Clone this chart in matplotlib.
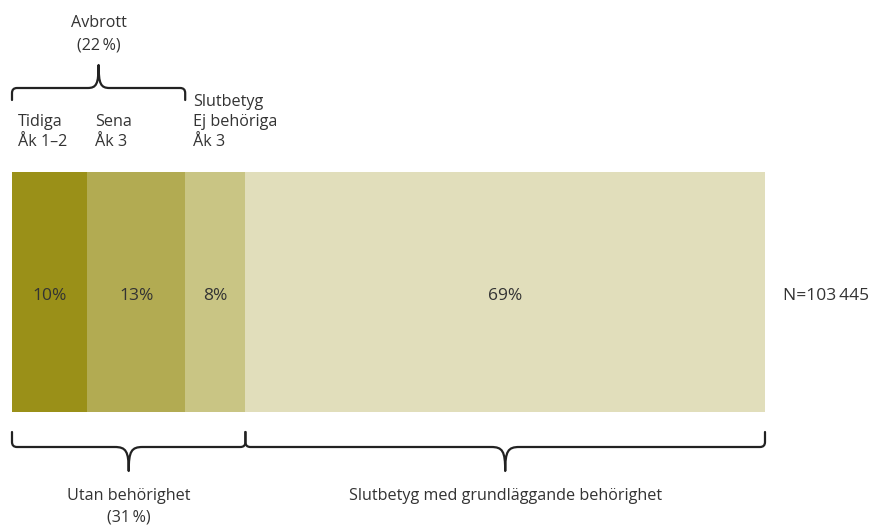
import matplotlib
matplotlib.use("Agg")
import matplotlib.pyplot as plt
from matplotlib.path import Path
from matplotlib.patches import PathPatch
import numpy as np

# ---- data ----
segments = ["Tidiga Åk 1–2", "Sena Åk 3", "Slutbetyg Ej behöriga Åk 3",
            "Slutbetyg med grundläggande behörighet"]
values = [10, 13, 8, 69]
value_labels = ["10%", "13%", "8%", "69%"]
colors = ["#9a9018", "#b2ab52", "#c9c584", "#e1debb"]
n_label = "N=103\u2009445"
top_labels = [["Tidiga", "Åk 1–2"], ["Sena", "Åk 3"], ["Slutbetyg", "Ej behöriga", "Åk 3"]]
group_top = ["Avbrott", "(22\u2009%)"]
group_bottom_1 = ["Utan behörighet", "(31\u2009%)"]
group_bottom_2 = ["Slutbetyg med grundläggande behörighet"]

plt.rcParams['font.family'] = ['Open Sans', 'DejaVu Sans']
W, H = 870, 528
fig = plt.figure(figsize=(W / 100, H / 100), dpi=100)
ax = fig.add_axes([0, 0, 1, 1])

# x: percent, mapped so that 0% -> 12px and 100% -> 765px ; y: pixels (top=0)
x0px, x1px = 12, 765
pxper = (x1px - x0px) / 100.0
ax.set_xlim(-x0px / pxper, (W - x0px) / pxper)
ax.set_ylim(H, 0)
ax.axis("off")

bar_y, bar_h = 292, 240
lefts = np.concatenate([[0], np.cumsum(values)[:-1]])
ax.barh([bar_y] * len(values), values, left=lefts, height=bar_h,
        color=colors, edgecolor="none")

txtc = "#333333"
fs = 11.6
fsb = 12.5
for l, v, lab in zip(lefts, values, value_labels):
    ax.text(l + v / 2, bar_y + 4, lab, ha="center", va="center", fontsize=fsb, color=txtc)
ax.text(100 + 18 / pxper, bar_y + 4, n_label, ha="left", va="center", fontsize=fsb, color=txtc)

# top labels
offs = [6, 8, 8]
for l, lines, o in zip(lefts[:3], top_labels, offs):
    n = len(lines)
    for i, line in enumerate(lines):
        y = 142 - (n - 1 - i) * 20
        ax.text(l + o / pxper, y, line, ha="left", va="center", fontsize=fs, color=txtc)


def brace(xa, xb, y_end, y_line, y_tip, r=5, w=10):
    """xa, xb in percent; ys in px; r, w in px."""
    rx = r / pxper
    wx = w / pxper
    xm = (xa + xb) / 2
    s = np.sign(y_end - y_line)
    verts = [(xa, y_end), (xa, y_line + s * r),
             (xa, y_line), (xa + rx, y_line),
             (xm - wx, y_line),
             (xm - 0.2 * wx, y_line), (xm, y_line - s * 4), (xm, y_tip),
             (xm, y_line - s * 4), (xm + 0.2 * wx, y_line), (xm + wx, y_line),
             (xb - rx, y_line),
             (xb, y_line), (xb, y_line + s * r),
             (xb, y_end)]
    codes = [Path.MOVETO, Path.LINETO,
             Path.CURVE3, Path.CURVE3,
             Path.LINETO,
             Path.CURVE4, Path.CURVE4, Path.CURVE4,
             Path.CURVE4, Path.CURVE4, Path.CURVE4,
             Path.LINETO,
             Path.CURVE3, Path.CURVE3,
             Path.LINETO]
    ax.add_patch(PathPatch(Path(verts, codes), facecolor="none",
                           edgecolor="#222222", lw=1.6, capstyle="round",
                           joinstyle="round"))
    return xm


cum = np.cumsum(values)
# top brace: Avbrott (first two segments)
xm = brace(0, cum[1], 100, 88, 65, w=11)
for i, line in enumerate(group_top):
    ax.text(xm, 23 + i * 22, line, ha="center", va="center", fontsize=fs, color=txtc)

# bottom braces
xm1 = brace(0, cum[2], 432, 447, 471, w=14)
xm2 = brace(cum[2], cum[3], 432, 447, 471, w=14)
for i, line in enumerate(group_bottom_1):
    ax.text(xm1, 496 + i * 22, line, ha="center", va="center", fontsize=fs, color=txtc)
for i, line in enumerate(group_bottom_2):
    ax.text(xm2, 496 + i * 22, line, ha="center", va="center", fontsize=fs, color=txtc)

fig.savefig("out.png", dpi=100, facecolor="white")
